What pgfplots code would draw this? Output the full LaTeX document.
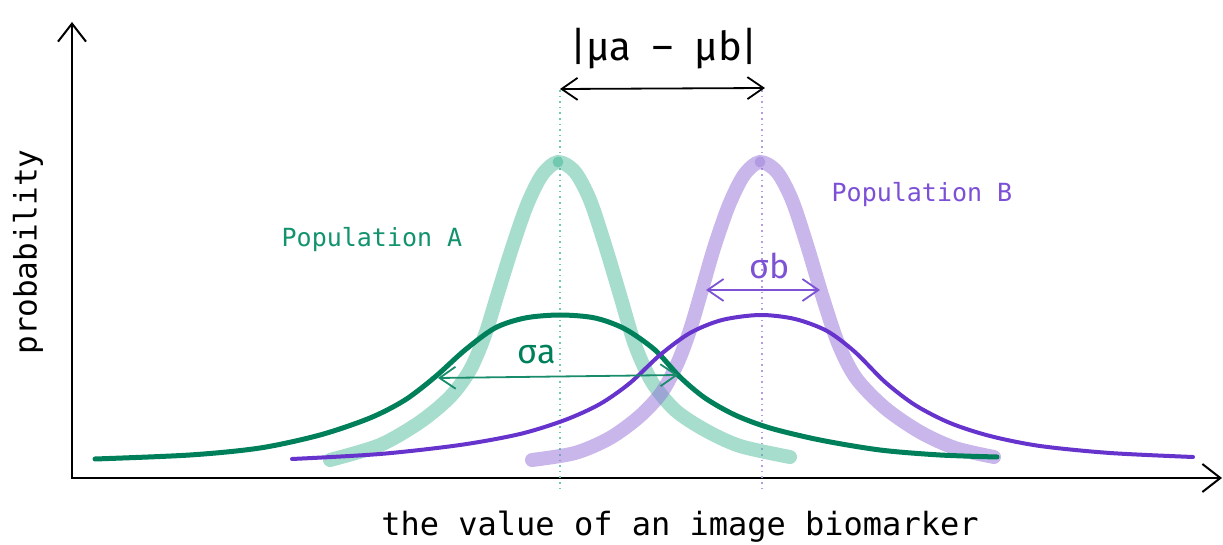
\documentclass[border=0pt]{standalone}
\usepackage{pgfplots}
\pgfplotsset{compat=1.18}
\usepackage{fontspec}
\setmainfont{Fira Sans}
\newfontfamily\mono{DejaVu Sans Mono}
\usetikzlibrary{arrows.meta}
\definecolor{tealL}{HTML}{4DBB9C}
\definecolor{lavL}{HTML}{9370D8}
\definecolor{dgreen}{HTML}{00805A}
\definecolor{dpurple}{HTML}{6633CC}
\definecolor{popA}{HTML}{12936E}
\definecolor{popB}{HTML}{7B4FD6}
\begin{document}
\begin{tikzpicture}
\begin{axis}[name=ax,
  scale only axis, width=611.5pt, height=272.5pt,
  xmin=0, xmax=1223, ymin=0, ymax=545, y dir=reverse,
  hide axis, clip=false]
% axes arrows
\draw[black, line width=1.3pt, -{Straight Barb[length=9pt,width=14pt,line width=1pt]}] (axis cs:72,479) -- (axis cs:72,22);
\draw[black, line width=1.3pt, -{Straight Barb[length=9pt,width=14pt,line width=1pt]}] (axis cs:71,478) -- (axis cs:1222,478);
% dotted mean lines
\draw[tealL!80, dotted, line width=0.8pt] (axis cs:560,90) -- (axis cs:560,492);
\draw[lavL!70, dotted, line width=0.8pt] (axis cs:762,90) -- (axis cs:762,492);
% thick narrow curves
\addplot[tealL, opacity=0.5, line width=7pt, line cap=round, smooth, tension=0.5] coordinates {
(330,460) (380,445) (420,422) (450,397) (470,370) (485,335) (498,293) (512,248) (527,205) (542,175) (558,162) (575,172) (590,200) (605,245) (620,295) (635,345) (652,382) (675,410) (705,430) (740,446) (790,457)};
\addplot[lavL, opacity=0.5, line width=7pt, line cap=round, smooth, tension=0.5] coordinates {
(532,460) (575,453) (610,438) (640,416) (662,392) (678,362) (690,330) (701,293) (714,248) (729,205) (744,175) (760,162) (777,172) (792,200) (807,245) (822,295) (838,343) (856,378) (885,408) (920,432) (955,448) (994,457)};
\addplot[only marks, mark=*, mark size=2.5pt, color=tealL!80] coordinates {(558,162)};
\addplot[only marks, mark=*, mark size=2.5pt, color=lavL!70] coordinates {(760,162)};
% wide curves
\addplot[dgreen, line width=2.5pt, line cap=round, smooth, tension=0.5] coordinates {
(95,459) (190,455) (260,448) (320,435) (370,418) (405,400) (435,377) (465,350) (495,328) (525,318) (560,315) (595,318) (625,329) (655,350) (680,377) (705,398) (735,415) (770,428) (820,440) (880,450) (940,455) (997,457)};
\addplot[dpurple, line width=2pt, line cap=round, smooth, tension=0.5] coordinates {
(292,459) (380,454) (460,445) (520,434) (565,420) (600,404) (630,383) (660,355) (690,333) (722,320) (760,315) (795,319) (827,331) (855,352) (885,382) (915,405) (950,423) (990,436) (1040,446) (1110,453) (1193,457)};
% arrows
\draw[black, line width=0.9pt, {Straight Barb[length=8pt,width=11pt]}-{Straight Barb[length=8pt,width=11pt]}] (axis cs:560,89) -- (axis cs:765,88);
\draw[dgreen!90, line width=0.9pt, {Straight Barb[length=8pt,width=11pt]}-{Straight Barb[length=8pt,width=11pt]}] (axis cs:438,378) -- (axis cs:678,375);
\draw[dpurple!85, line width=0.9pt, {Straight Barb[length=8pt,width=11pt]}-{Straight Barb[length=8pt,width=11pt]}] (axis cs:706,290) -- (axis cs:820,290);
% texts
\node[black] at (axis cs:664,49) {\fontsize{20pt}{23pt}\selectfont |μa~~–~~μb|};
\node[dgreen] at (axis cs:537,355) {\fontsize{17pt}{20pt}\selectfont σa};
\node[dpurple!85] at (axis cs:770,266) {\fontsize{17pt}{20pt}\selectfont σb};
\node[popA] at (axis cs:372,240) {\mono\fontsize{12.5pt}{15pt}\selectfont Population A};
\node[popB] at (axis cs:922,195) {\mono\fontsize{12.5pt}{15pt}\selectfont Population B};
\node[black, rotate=90] at (axis cs:28,252) {\mono\fontsize{15.5pt}{18pt}\selectfont probability};
\node[black] at (axis cs:680,527) {\mono\fontsize{16pt}{19pt}\selectfont the value of an image biomarker};
\end{axis}
\pgfresetboundingbox
\path[use as bounding box] (ax.south west) rectangle (ax.north east);
\end{tikzpicture}
\end{document}
